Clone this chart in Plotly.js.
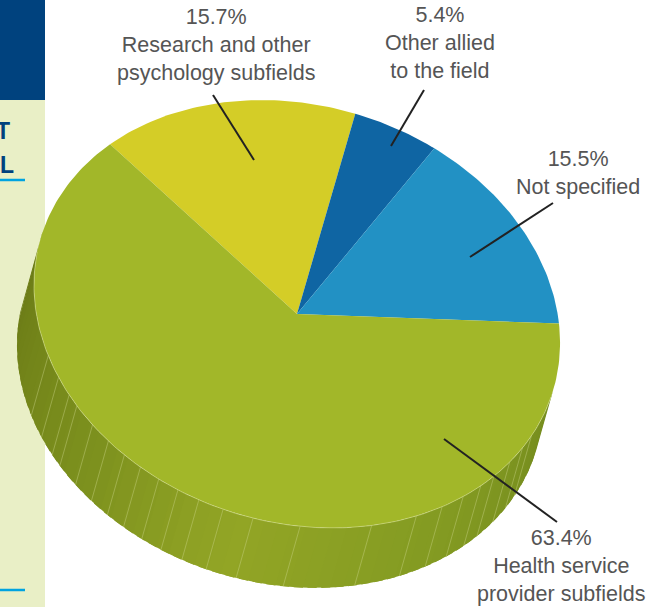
<!DOCTYPE html>
<html>
<head>
<meta charset="utf-8">
<script src="https://cdn.plot.ly/plotly-3.0.1.min.js"></script>
<style>html,body{margin:0;padding:0;background:#fff;overflow:hidden}#chart{width:663px;height:607px}</style>
</head>
<body>
<div id="chart"></div>
<script>
// Data
const categories = ["Research and other<br>psychology subfields", "Other allied<br>to the field", "Not specified", "Health service<br>provider subfields"];
const shares = [15.7, 5.4, 15.5, 63.4];
const sliceColors = ["#d4cd27", "#0f65a3", "#2291c4", "#a2b729"];
const labelX = [216, 440, 578, 561];
const labelY = [45, 43, 173, 566];

// Projection of the tilted disc onto the page
const cx = 297, cy = 314, rMajor = 267.3, rMinor = 208.6, tilt = 16.5 * Math.PI / 180;
const startAngle = -148.3, depthX = -17, depthY = 60;
const project = (deg, ox = 0, oy = 0) => {
  const p = deg * Math.PI / 180, u = rMajor * Math.cos(p), v = rMinor * Math.sin(p);
  return [cx + u * Math.cos(tilt) - v * Math.sin(tilt) + ox, cy + u * Math.sin(tilt) + v * Math.cos(tilt) + oy];
};
// Foreshortening of slice angles on the tilted disc
const warp = a => a + 1.7 * Math.sin(2 * (a - startAngle) * Math.PI / 180);

// Wall: the rim angles of the thin ribs and the shade by rim angle
const ribAngles = [14, 18, 23, 28.5, 32.7, 37.8, 43.5, 50, 60.5, 76.3, 86.6, 93.3, 98.9, 103.9, 108.7, 113.5, 118, 122.8, 128, 133.8, 137, 142, 148];
const shadeStops = [[0, [118, 140, 30]], [45, [132, 155, 34]], [90, [146, 165, 37]], [125, [125, 145, 30]], [180, [106, 122, 22]]];
const shadeAt = a => {
  for (let i = 1; i < shadeStops.length; i++) {
    if (a <= shadeStops[i][0]) {
      const [a0, c0] = shadeStops[i - 1], [a1, c1] = shadeStops[i];
      const t = (a - a0) / (a1 - a0);
      return `rgb(${c0.map((c, k) => Math.round(c + (c1[k] - c) * t)).join(",")})`;
    }
  }
  return "rgb(106,122,22)";
};

const traces = [];
const addPoly = (pts, color) => traces.push({
  type: "scatter", mode: "lines", x: pts.map(p => p[0]), y: pts.map(p => p[1]),
  fill: "toself", fillcolor: color, line: { width: 0 }, hoverinfo: "skip", showlegend: false
});

// Wall strips, each overlapping the next so no seams show
for (let a = 0; a < 180; a += 3) {
  const pts = [];
  for (let s = 0; s <= 5; s += 1) pts.push(project(a + s));
  for (let s = 5; s >= 0; s -= 1) pts.push(project(a + s, depthX, depthY));
  addPoly(pts, shadeAt(a + 1.5));
}

// Ribs
const ribX = [], ribY = [];
ribAngles.forEach(a => {
  const p0 = project(a), p1 = project(a, depthX, depthY);
  ribX.push(p0[0], p1[0], null); ribY.push(p0[1], p1[1], null);
});
traces.push({ type: "scatter", mode: "lines", x: ribX, y: ribY, line: { width: 0.7, color: "rgba(205,215,140,0.6)" }, hoverinfo: "skip", showlegend: false });

// Top face slices from the shares
let cumulative = 0;
shares.forEach((share, i) => {
  const a0 = startAngle + cumulative * 3.6;
  cumulative += share;
  const a1 = startAngle + cumulative * 3.6;
  const pts = [[cx, cy]];
  const n = Math.ceil(a1 - a0);
  for (let k = 0; k <= n; k++) pts.push(project(warp(a0 + (a1 - a0) * k / n)));
  pts.push([cx, cy]);
  addPoly(pts, sliceColors[i]);
});

// Light rim line along the front edge
const rim = [];
for (let a = 2; a <= 176; a += 1) rim.push(project(a));
traces.push({ type: "scatter", mode: "lines", x: rim.map(p => p[0]), y: rim.map(p => p[1]), line: { width: 0.7, color: "rgba(225,232,170,0.7)" }, hoverinfo: "skip", showlegend: false });

const leaderLines = [[254, 160, 213, 95], [391, 146, 424, 90], [470, 257, 553, 203], [444, 439, 557, 522]];
const labelFont = { family: "Liberation Sans, Arial, sans-serif", size: 21.5, color: "#555555" };

const layout = {
  width: 663, height: 607, margin: { l: 0, r: 0, t: 0, b: 0 },
  paper_bgcolor: "#fff", plot_bgcolor: "#fff", showlegend: false,
  xaxis: { range: [0, 663], visible: false, fixedrange: true },
  yaxis: { range: [607, 0], visible: false, fixedrange: true },
  shapes: [
    { type: "rect", layer: "below", x0: 0, x1: 45, y0: 0, y1: 100, fillcolor: "#00427e", line: { width: 0 } },
    { type: "rect", layer: "below", x0: 0, x1: 45, y0: 100, y1: 607, fillcolor: "#e9efc6", line: { width: 0 } },
    { type: "line", layer: "below", x0: 0, x1: 25, y0: 180, y1: 180, line: { color: "#00a3e0", width: 2.5 } },
    { type: "line", layer: "below", x0: 0, x1: 25, y0: 590, y1: 590, line: { color: "#00a3e0", width: 2.5 } }
  ].concat(leaderLines.map(l => ({ type: "line", layer: "above", x0: l[0], y0: l[1], x1: l[2], y1: l[3], line: { color: "#222", width: 2 } }))),
  annotations: categories.map((c, i) => ({
    x: labelX[i], y: labelY[i], xref: "x", yref: "y", text: shares[i].toFixed(1) + "%<br>" + c,
    showarrow: false, xanchor: "center", yanchor: "middle", align: "center", font: labelFont
  })).concat([
    { x: 11.5, y: 131, xref: "x", yref: "y", text: "<b>T</b>", showarrow: false, xanchor: "right", yanchor: "middle", font: { family: "Liberation Sans", size: 23, color: "#00427e" } },
    { x: 15.5, y: 165, xref: "x", yref: "y", text: "<b>L</b>", showarrow: false, xanchor: "right", yanchor: "middle", font: { family: "Liberation Sans", size: 23, color: "#00427e" } }
  ])
};
Plotly.newPlot("chart", traces, layout, { staticPlot: true, displayModeBar: false });
</script>
</body>
</html>
